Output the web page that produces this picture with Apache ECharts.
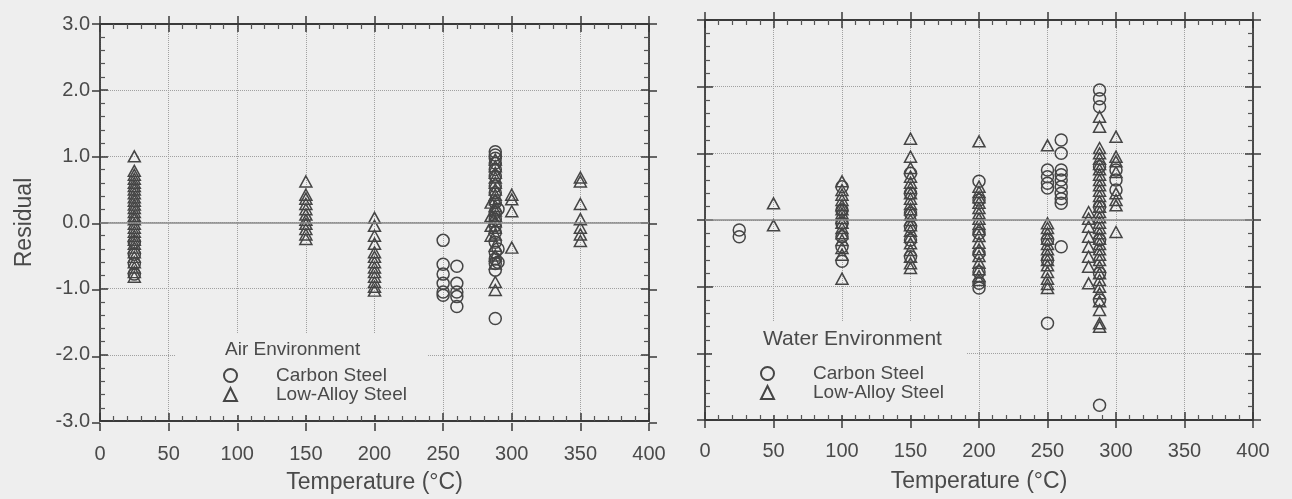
<!DOCTYPE html>
<html>
<head>
<meta charset="utf-8">
<script src="https://cdn.jsdelivr.net/npm/echarts@6/dist/echarts.min.js"></script>
<style>
html,body{margin:0;padding:0;background:#eeeeee;}
#chart{width:1292px;height:499px;}
</style>
</head>
<body>
<div id="chart"></div>
<script>
// ---------- data (temperature °C, residual) ----------
const xTicks = [0, 50, 100, 150, 200, 250, 300, 350, 400];
const yTicks = [-3, -2, -1, 0, 1, 2, 3];

const airCarbon = [
  [25,-0.30],[25,-0.48],[25,-0.62],[25,-0.78],
  [250,-0.27],[250,-0.63],[250,-0.78],[250,-0.92],[250,-1.05],[250,-1.10],
  [260,-0.66],[260,-0.92],[260,-1.05],[260,-1.12],[260,-1.27],
  [288,1.07],[288,1.02],[288,0.97],[288,0.90],[288,0.80],[288,0.70],[288,0.55],[288,0.45],
  [288,0.30],[288,0.15],[288,0.05],[288,-0.05],[288,-0.15],[288,-0.30],[288,-0.45],
  [288,-0.55],[288,-0.62],[288,-0.72],[288,-1.45],
  [290,0.20],[290,-0.40],[290,-0.60]
];
const airLowAlloy = [
  [25,1.00],[25,0.78],[25,0.72],[25,0.66],[25,0.60],[25,0.55],[25,0.50],[25,0.44],[25,0.38],
  [25,0.33],[25,0.27],[25,0.22],[25,0.16],[25,0.10],[25,0.05],[25,-0.02],[25,-0.08],[25,-0.14],
  [25,-0.20],[25,-0.26],[25,-0.32],[25,-0.38],[25,-0.45],[25,-0.52],[25,-0.60],[25,-0.68],
  [25,-0.75],[25,-0.82],
  [150,0.62],[150,0.42],[150,0.36],[150,0.28],[150,0.20],[150,0.12],[150,0.04],[150,-0.02],
  [150,-0.10],[150,-0.18],[150,-0.25],
  [200,0.07],[200,-0.05],[200,-0.20],[200,-0.32],[200,-0.45],[200,-0.52],[200,-0.60],
  [200,-0.68],[200,-0.75],[200,-0.82],[200,-0.90],[200,-0.97],[200,-1.03],
  [288,0.95],[288,0.85],[288,0.75],[288,0.68],[288,0.60],[288,0.50],[288,0.42],[288,0.35],
  [288,0.25],[288,0.18],[288,0.10],[288,0.02],[288,-0.08],[288,-0.18],[288,-0.35],[288,-0.50],
  [288,-0.62],[288,-0.90],[288,-1.02],
  [285,0.30],[285,0.10],[285,-0.05],[285,-0.20],
  [300,0.42],[300,0.35],[300,0.17],[300,-0.38],
  [350,0.68],[350,0.62],[350,0.28],[350,0.05],[350,-0.08],[350,-0.18],[350,-0.28]
];
const waterCarbon = [
  [25,-0.15],[25,-0.25],
  [100,0.50],[100,0.15],[100,-0.05],[100,-0.25],[100,-0.40],[100,-0.62],
  [150,0.70],[150,0.40],[150,0.10],[150,-0.10],[150,-0.30],[150,-0.55],
  [200,0.58],[200,0.30],[200,-0.20],[200,-0.50],[200,-0.78],[200,-0.95],[200,-1.02],
  [250,0.75],[250,0.65],[250,0.55],[250,0.48],[250,-0.30],[250,-0.60],[250,-1.55],
  [260,1.20],[260,1.00],[260,0.75],[260,0.68],[260,0.60],[260,0.50],[260,0.40],[260,0.32],
  [260,0.25],[260,-0.40],
  [288,1.95],[288,1.82],[288,1.70],[288,0.80],[288,0.20],[288,-0.30],[288,-0.80],[288,-1.20],
  [288,-2.78],
  [300,0.75],[300,0.60],[300,0.45]
];
const waterLowAlloy = [
  [50,0.25],[50,-0.08],
  [100,0.58],[100,0.45],[100,0.38],[100,0.30],[100,0.22],[100,0.16],[100,0.10],[100,0.03],
  [100,-0.04],[100,-0.12],[100,-0.20],[100,-0.30],[100,-0.42],[100,-0.52],[100,-0.88],
  [150,1.22],[150,0.95],[150,0.78],[150,0.65],[150,0.56],[150,0.48],[150,0.40],[150,0.32],
  [150,0.24],[150,0.16],[150,0.08],[150,0.00],[150,-0.08],[150,-0.16],[150,-0.25],[150,-0.35],
  [150,-0.45],[150,-0.55],[150,-0.65],[150,-0.72],
  [200,1.18],[200,0.50],[200,0.42],[200,0.34],[200,0.26],[200,0.18],[200,0.10],[200,0.02],
  [200,-0.06],[200,-0.14],[200,-0.24],[200,-0.34],[200,-0.44],[200,-0.54],[200,-0.64],
  [200,-0.74],[200,-0.84],[200,-0.90],
  [250,1.12],[250,-0.05],[250,-0.12],[250,-0.20],[250,-0.28],[250,-0.36],[250,-0.44],
  [250,-0.52],[250,-0.60],[250,-0.68],[250,-0.78],[250,-0.88],[250,-0.96],[250,-1.02],
  [288,1.55],[288,1.40],[288,1.08],[288,1.00],[288,0.92],[288,0.84],[288,0.76],[288,0.68],
  [288,0.60],[288,0.52],[288,0.44],[288,0.36],[288,0.28],[288,0.20],[288,0.12],[288,0.04],
  [288,-0.04],[288,-0.12],[288,-0.20],[288,-0.28],[288,-0.36],[288,-0.44],[288,-0.52],
  [288,-0.60],[288,-0.70],[288,-0.80],[288,-0.90],[288,-1.00],[288,-1.10],[288,-1.22],
  [288,-1.35],[288,-1.55],[288,-1.60],
  [280,0.12],[280,0.02],[280,-0.10],[280,-0.25],[280,-0.40],[280,-0.55],[280,-0.70],[280,-0.95],
  [300,1.25],[300,0.95],[300,0.88],[300,0.72],[300,0.40],[300,0.30],[300,0.22],[300,-0.18]
];

// ---------- styling ----------
const FONT = '"Liberation Sans", Arial, Helvetica, sans-serif';
const TXT = '#4a4a4a';
const AXC = '#3a3a3a';
const MK = '#454545';

const grids = [
  {left:100, top:24, width:549, height:399},
  {left:100, top:24, width:549, height:399},
  {left:705, top:20, width:548, height:400},
  {left:705, top:20, width:548, height:400}
];

function xAxisDef(gi, pos, inside, labels, name, margin, nameGap) {
  const a = {
    type:'value', gridIndex:gi, position:pos, min:xTicks[0], max:xTicks[xTicks.length-1], interval:50,
    axisLine:{show:inside, onZero:false, lineStyle:{color:AXC, width:1.8}},
    axisTick:{show:true, inside:inside, length:8, lineStyle:{color:AXC, width:1.5}},
    minorTick:{show:inside, splitNumber:5, length:5, lineStyle:{color:'#555', width:1.2}},
    axisLabel:{show:labels, margin:margin || 22, fontSize:20, color:TXT, fontFamily:FONT},
    splitLine:{show:labels, lineStyle:{type:'dotted', color:'#a0a0a0', width:1}}
  };
  if (name) {
    a.name = name; a.nameLocation = 'middle'; a.nameGap = nameGap;
    a.nameTextStyle = {fontSize:23, color:TXT, fontFamily:FONT};
  }
  return a;
}
function yAxisDef(gi, pos, inside, labels, grid, name) {
  const a = {
    type:'value', gridIndex:gi, position:pos, min:yTicks[0], max:yTicks[yTicks.length-1], interval:1,
    axisLine:{show:inside, onZero:false, lineStyle:{color:AXC, width:1.8}},
    axisTick:{show:true, inside:inside, length:8, lineStyle:{color:AXC, width:1.5}},
    minorTick:{show:inside, splitNumber:5, length:5, lineStyle:{color:'#555', width:1.2}},
    axisLabel:{show:labels, margin:10, fontSize:20, color:TXT, fontFamily:FONT,
               formatter: v => v.toFixed(1)},
    splitLine:{show:grid, lineStyle:{type:'dotted', color:'#a0a0a0', width:1}}
  };
  if (name) {
    a.name = name; a.nameLocation = 'middle'; a.nameGap = 64;
    a.nameTextStyle = {fontSize:23, color:TXT, fontFamily:FONT};
  }
  return a;
}

const xAxes = [
  xAxisDef(0,'bottom',true,true,'Temperature (°C)',23,50), xAxisDef(0,'top',true,false),
  xAxisDef(1,'bottom',false,false), xAxisDef(1,'top',false,false),
  xAxisDef(2,'bottom',true,true,'Temperature (°C)',21,50), xAxisDef(2,'top',true,false),
  xAxisDef(3,'bottom',false,false), xAxisDef(3,'top',false,false)
];
const yAxes = [
  yAxisDef(0,'left',true,true,true,'Residual'), yAxisDef(0,'right',true,false,false),
  yAxisDef(1,'left',false,false,false), yAxisDef(1,'right',false,false,false),
  yAxisDef(2,'left',true,false,true), yAxisDef(2,'right',true,false,false),
  yAxisDef(3,'left',false,false,false), yAxisDef(3,'right',false,false,false)
];

const zeroLine = {
  silent:true, symbol:'none', label:{show:false},
  lineStyle:{type:'solid', color:'#8a8a8a', width:1.6},
  data:[{yAxis:0}]
};
function scatter(name, data, symbol, xi, withZero) {
  const s = {
    type:'scatter', name:name, data:data, xAxisIndex:xi, yAxisIndex:xi,
    symbol:symbol, symbolSize: symbol === 'circle' ? 12 : [12, 11],
    itemStyle:{color:'rgba(0,0,0,0)', borderColor:MK, borderWidth:1.5, opacity:1},
    emphasis:{disabled:true}, z:3
  };
  if (withZero) s.markLine = zeroLine;
  return s;
}

const legendBase = {
  data:['Carbon Steel','Low-Alloy Steel'], orient:'vertical', itemWidth:13, itemHeight:13,
  itemGap:0, selectedMode:false, padding:0,
  textStyle:{fontSize:19, color:TXT, fontFamily:FONT, lineHeight:19, padding:[0,0,0,34]}
};

const option = {
  backgroundColor:'#eeeeee',
  animation:false,
  grid: grids,
  xAxis: xAxes,
  yAxis: yAxes,
  legend: [
    Object.assign({}, legendBase, {left:223, top:366}),
    Object.assign({}, legendBase, {left:760, top:364})
  ],
  graphic: [
    {type:'rect', z:1, silent:true, shape:{x:176, y:333, width:252, height:82}, style:{fill:'#eeeeee'}},
    {type:'rect', z:1, silent:true, shape:{x:712, y:322, width:254, height:93}, style:{fill:'#eeeeee'}},
    {type:'text', z:5, left:225, top:340, style:{text:'Air Environment', fontSize:19, fill:TXT, fontFamily:FONT}},
    {type:'text', z:5, left:763, top:329, style:{text:'Water Environment', fontSize:21, fill:TXT, fontFamily:FONT}}
  ],
  series: [
    scatter('Carbon Steel', airCarbon, 'circle', 0, true),
    scatter('Low-Alloy Steel', airLowAlloy, 'triangle', 0, false),
    scatter('Carbon Steel', waterCarbon, 'circle', 4, true),
    scatter('Low-Alloy Steel', waterLowAlloy, 'triangle', 4, false)
  ]
};

const chart = echarts.init(document.getElementById('chart'), null, {renderer:'canvas'});
chart.setOption(option);
</script>
</body>
</html>
